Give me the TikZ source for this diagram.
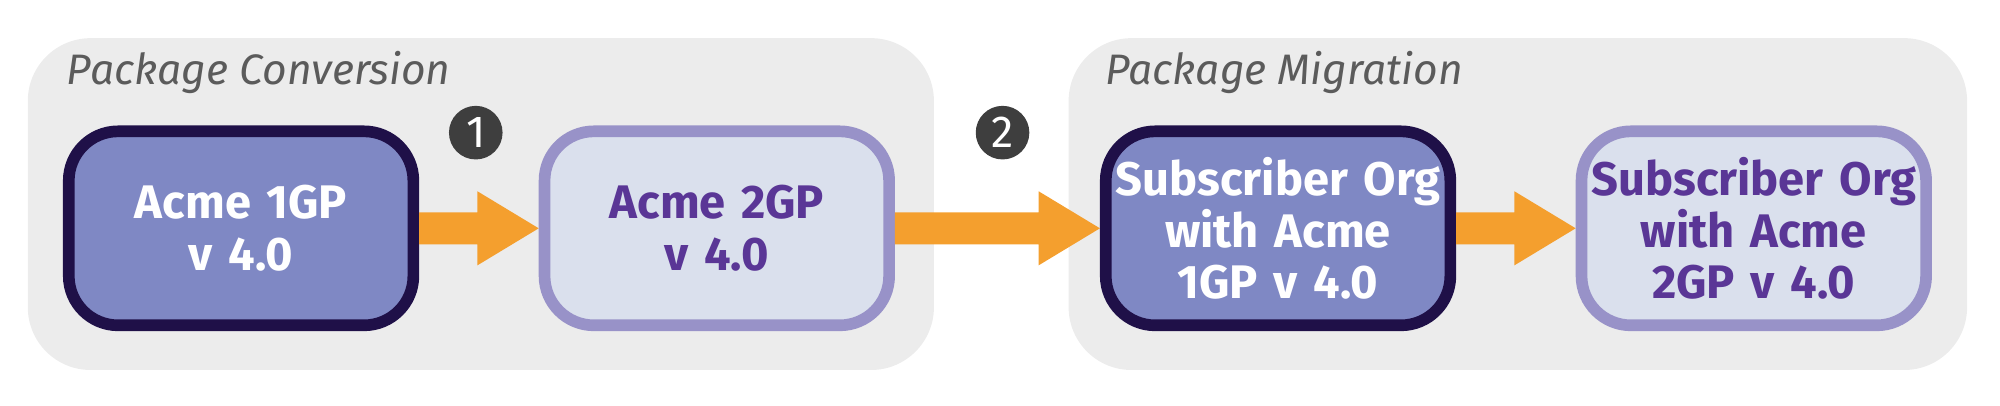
\documentclass[tikz,border=0pt]{standalone}
\usepackage{fontspec}
\setmainfont{Fira Sans}
\usetikzlibrary{positioning,shapes,calc}
\definecolor{panelGrey}{HTML}{ECECEC}
\definecolor{darkBlue}{HTML}{7F88C4}
\definecolor{darkEdge}{HTML}{1F1048}
\definecolor{lightBlue}{HTML}{DAE0ED}
\definecolor{lightEdge}{HTML}{9892C8}
\definecolor{textPurple}{HTML}{5A3696}
\definecolor{arrowOrange}{HTML}{F49F2E}
\definecolor{stepGrey}{HTML}{3E3E3E}
\tikzset{
  panel/.style={rectangle,rounded corners=14pt,fill=panelGrey,minimum height=2.6cm},
  boxDark/.style={rectangle,rounded corners=11pt,fill=darkBlue,draw=darkEdge,line width=2.6pt,
    text width=2.6cm,inner xsep=0.05cm,minimum height=1.52cm,align=center,text=white,
    font=\bfseries\fontsize{10.5}{11.5}\selectfont},
  boxLight/.style={boxDark,fill=lightBlue,draw=lightEdge,text=textPurple},
  stepNum/.style={circle,fill=stepGrey,text=white,minimum size=0.42cm,inner sep=0pt,font=\fontsize{10}{10}\selectfont},
  panelTitle/.style={anchor=west,text=stepGrey!85,font=\itshape\fontsize{9.5}{10}\selectfont},
}
\newcommand{\bigArrow}[2]{%
  \fill[arrowOrange] let \p1=(#1.east), \p2=(#2.west) in
    (\x1,\y1+0.125cm) -- (\x2-0.48cm,\y1+0.125cm) -- (\x2-0.48cm,\y1+0.29cm) -- (\x2,\y1)
    -- (\x2-0.48cm,\y1-0.29cm) -- (\x2-0.48cm,\y1-0.125cm) -- (\x1,\y1-0.125cm) -- cycle;}
\begin{document}
\begin{tikzpicture}[x=0.01cm,y=0.01cm]
  \useasboundingbox (0,0) rectangle (1568,318);
  % Panels
  \node [panel,minimum width=7.1cm] (conv) at (377,158) {};
  \node [panel,minimum width=7.04cm] (migr) at (1190,158) {};
  \node [panelTitle] (convT) at (40,261) {Package Conversion};
  \node [panelTitle] (migrT) at (854,261) {Package Migration};
  % Boxes
  \node [boxDark]  (gp1)  at (189,139) {Acme 1GP\\v 4.0};
  \node [boxLight] (gp2)  at (562,139) {Acme 2GP\\v 4.0};
  \node [boxDark]  (sub1) at (1002,139) {Subscriber Org\\with Acme\\1GP v 4.0};
  \node [boxLight] (sub2) at (1375,139) {Subscriber Org\\with Acme\\2GP v 4.0};
  % Steps
  \node [stepNum] (s1) at (373,214) {1};
  \node [stepNum] (s2) at (786,214) {2};
  % Arrows
  \bigArrow{gp1}{gp2}
  \bigArrow{gp2}{sub1}
  \bigArrow{sub1}{sub2}
\end{tikzpicture}
\end{document}
